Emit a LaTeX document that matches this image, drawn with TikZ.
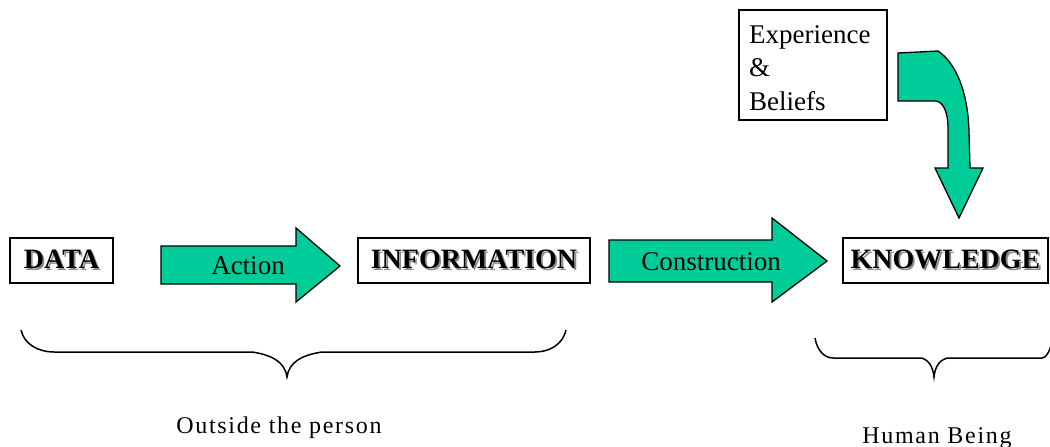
\documentclass[tikz,border=0pt]{standalone}
\usepackage{fontspec}
\setmainfont{Liberation Serif}
\usepackage{xcolor}
\usepackage{tikz}
\definecolor{arrowgreen}{RGB}{0,204,153}
\newcommand{\shtext}[1]{\makebox[0pt][l]{\hspace{1.8pt}\raisebox{-1.8pt}{\textcolor{black!45}{#1}}}#1}
\tikzset{
  box/.style={draw,line width=1.3pt,minimum height=45pt,inner sep=0pt,
    font=\fontsize{28}{30}\selectfont\bfseries},
  bigarrow/.style={draw,line width=1.3pt,fill=arrowgreen,line join=miter},
  arrowtext/.style={inner sep=0pt,font=\fontsize{27}{30}\selectfont},
  bracetext/.style={inner sep=0pt,anchor=base,
    font=\fontsize{24}{28}\selectfont\addfontfeature{LetterSpace=7}},
  brace/.style={line width=1.5pt}
}

\begin{document}
\begin{tikzpicture}[x=1pt,y=-1pt]
\useasboundingbox (0,0) rectangle (1050,447);
    % the three boxes
    \node[box,minimum width=103pt] (data) at (61.5,260.5) {\shtext{DATA}};
    \node[box,minimum width=232pt] (info) at (474,260.5) {\shtext{INFORMATION}};
    \node[box,minimum width=205pt] (know) at (945.5,260.5) {\shtext{KNOWLEDGE}};
    % block arrows
    \draw[bigarrow] (161,246)--(296,246)--(296,228)--(340,266)--(296,302)--(296,284)--(161,284)--cycle;
    \node[arrowtext] (action) at (248,266) {Action};
    \draw[bigarrow] (609,240)--(772,240)--(772,218)--(827,261)--(772,302)--(772,282)--(609,282)--cycle;
    \node[arrowtext] (constr) at (711,262) {Construction};
    % experience box and bent arrow
    \node[draw,line width=1.3pt,minimum width=148pt,minimum height=110pt,inner sep=0pt] (exp) at (813,65) {};
    \node[anchor=north west,align=left,inner sep=0pt,font=\fontsize{27}{33.5}\selectfont] (exptext) at (749,25) {Experience\\\&\\Beliefs};
    \draw[bigarrow] (898,53)--(938,51) .. controls (956,63) and (968,92) .. (969,132)--(970,168)--(983,168)
        --(959,218)--(935,168)--(948,168)--(948,128) .. controls (948,112) and (943,101) .. (935,101)--(898,101)--cycle;
    % braces
    \draw[brace] (21,330) .. controls (24,344) and (38,352) .. (54,352)--(252,352)
        .. controls (272,355) and (285,362) .. (287,377) .. controls (289,362) and (302,355) .. (322,352)
        --(535,352) .. controls (550,352) and (563,344) .. (566,330);
    \draw[brace] (815,338) .. controls (817,350) and (824,358) .. (833,358)--(922,358)
        .. controls (928,360) and (933,366) .. (934,377) .. controls (935,366) and (940,360) .. (947,358)
        --(1042,358) .. controls (1046,358) and (1049,352) .. (1051,346);
    \node[bracetext] (outside) at (279,433) {Outside the person};
    \node[bracetext] (human) at (937,443) {Human Being};
\end{tikzpicture}
\end{document}
